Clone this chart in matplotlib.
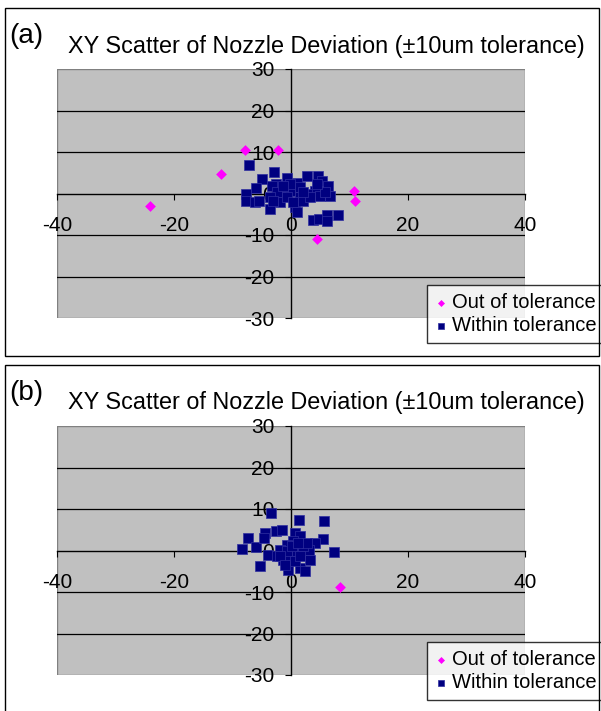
import numpy as np
import matplotlib
matplotlib.use("Agg")
import matplotlib.pyplot as plt
import matplotlib.patches as patches

plt.rcParams['font.family'] = ['Liberation Sans', 'DejaVu Sans']

W, H = 601, 711

TITLE = "XY Scatter of Nozzle Deviation (\u00b110um tolerance)"
LABELS = ["Out of tolerance", "Within tolerance"]
X_TICKS = [-40, -20, 0, 20, 40]
Y_TICKS = [-30, -20, -10, 0, 10, 20, 30]

# panel (a)
a_out_x = [-7.9, -2.3, -11.9, 10.7, 10.9, 4.5, -24.1]
a_out_y = [10.4, 10.4, 4.8, 0.7, -1.7, -11.0, -2.9]
a_in_x = [-7.2, -2.9, -4.9, -5.9, -7.7, -7.7, -6.2, -5.4, -3.6, -2.5, -0.6, 1.0,
          2.8, 4.7, 5.3, 6.3, 6.7, 4.1, 2.7, 1.5, -0.2, -1.3, -1.9, -1.9, 0.7,
          1.0, 3.8, 4.8, 6.1, 8.1, 6.1, -3.3, -2.4, -0.7, 2.1, 3.2, 5.0, 5.8,
          -0.2, 1.5, -1.3, -3.6, -3.0, 2.1, 0.4, 4.4]
a_in_y = [6.9, 5.3, 3.5, 1.4, -0.2, -1.9, -2.1, -1.9, -3.8, 2.3, 3.8, 2.5,
          4.1, 4.1, 3.0, 1.8, -0.6, 0.7, -0.1, -0.9, 0.7, 0.3, -0.9, -2.1, -3.3,
          -4.5, -6.4, -6.1, -5.3, -5.2, -6.7, 1.9, 0.3, -0.9, -1.7, -0.9, -0.5, 0.3,
          2.3, 1.5, 1.9, -0.9, -1.7, 0.3, -2.1, 2.3]

# panel (b)
b_out_x = [8.4]
b_out_y = [-8.8]
b_in_x = [-3.4, 1.3, 5.6, 5.4, 4.1, 7.3, -7.4, -8.3, -5.9, -4.4, -4.7, -2.5,
          -1.6, -3.9, -5.3, -0.5, 1.5, 2.4, 3.2, 3.0, 0.7, 1.5, 0.4, -0.7, -1.9,
          -2.4, -1.3, -0.2, 1.0, 2.1, 2.7, -0.7, 0.7, -1.9, 1.5, 0.1, 1.2, -1.0]
b_in_y = [9.0, 7.3, 7.0, 2.8, 1.7, -0.4, 3.1, 0.4, 0.9, 4.1, 3.0, 4.6,
          4.9, -1.2, -3.8, -4.6, -4.2, -5.0, -2.2, 0.2, 4.2, 3.4, 2.2, 1.4, 0.2,
          -1.4, -2.2, -1.4, -0.2, 1.0, 1.8, -0.2, -2.6, -1.4, -1.4, 1.0, 1.8, -3.4]


def px_rect(x0, y0, x1, y1):
    # pixel box (top-left origin) -> figure fraction
    return [x0 / W, 1 - y1 / H, (x1 - x0) / W, (y1 - y0) / H]


def draw_panel(fig, top, tag, out_x, out_y, in_x, in_y):
    # outer frame of the panel
    fig.patches.append(patches.Rectangle((5 / W, 1 - (top + 348) / H), 594 / W, 348 / H,
                                         transform=fig.transFigure, fill=False,
                                         edgecolor='black', linewidth=1.0))
    fig.text(9 / W, 1 - (top + 28) / H, tag, fontsize=20, ha='left', va='center')
    fig.text(326 / W, 1 - (top + 38) / H, TITLE, fontsize=16.8, ha='center', va='center')

    ax = fig.add_axes(px_rect(57, top + 61, 525, top + 310))
    ax.set_facecolor('#C0C0C0')
    ax.set_xlim(-40, 40)
    ax.set_ylim(-30, 30)
    for s in ['top', 'right']:
        ax.spines[s].set_visible(False)
    ax.spines['left'].set_position(('data', 0))
    ax.spines['bottom'].set_position(('data', 0))
    ax.spines['left'].set_linewidth(1.0)
    ax.spines['bottom'].set_linewidth(1.0)
    ax.add_patch(patches.Rectangle((0, 0), 1, 1, transform=ax.transAxes, fill=False,
                                   edgecolor='#808080', linewidth=1.0, zorder=1))
    for yv in Y_TICKS[1:-1]:
        if yv != 0:
            ax.axhline(yv, color='black', linewidth=0.9, zorder=1)
    ax.set_xticks(X_TICKS)
    ax.set_yticks(Y_TICKS)
    ax.set_xticklabels([str(v) for v in X_TICKS])
    ax.set_yticklabels([str(v) for v in Y_TICKS])
    ax.tick_params(axis='x', direction='out', length=4, labelsize=15, pad=12)
    ax.tick_params(axis='y', direction='out', length=4, labelsize=15, pad=8)

    ax.scatter(out_x, out_y, marker='D', s=30, color='#FF00FF', zorder=4,
               label=LABELS[0], linewidths=0)
    ax.scatter(in_x, in_y, marker='s', s=42, color='#000080', zorder=3,
               label=LABELS[1], edgecolors='#3030A0', linewidths=0.5)

    bl = (427 / W, 1 - (top + 335) / H)
    leg = ax.legend(loc='lower left', bbox_to_anchor=bl, bbox_transform=fig.transFigure,
                    fontsize=14.5, frameon=True, fancybox=False, borderpad=0.38,
                    handlelength=0.6, handletextpad=0.25, labelspacing=0.22,
                    borderaxespad=0, markerscale=0.65)
    leg.get_frame().set_edgecolor('black')
    leg.get_frame().set_linewidth(1.0)
    return ax


fig = plt.figure(figsize=(W / 100, H / 100), dpi=100)
draw_panel(fig, 8, "(a)", a_out_x, a_out_y, a_in_x, a_in_y)
draw_panel(fig, 365, "(b)", b_out_x, b_out_y, b_in_x, b_in_y)
fig.savefig("out.png", dpi=100)
